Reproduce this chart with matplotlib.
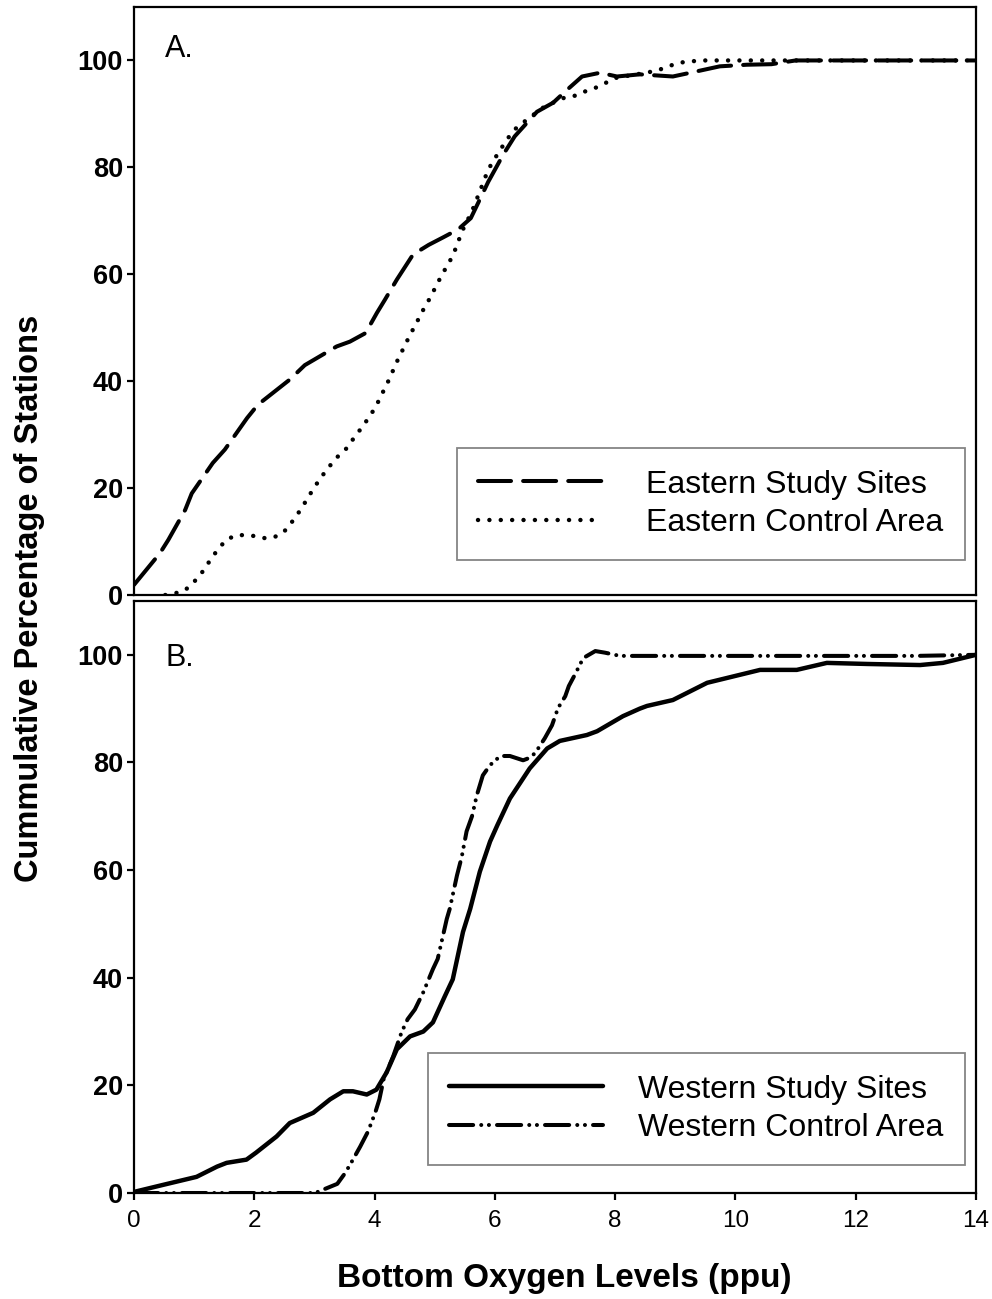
import matplotlib
matplotlib.use("Agg")
import matplotlib.pyplot as plt

plt.rcParams['font.family'] = ['Liberation Sans', 'DejaVu Sans']

# ---------------- data ----------------
east_study_x = [0.0, 0.43, 0.57, 0.85, 0.96, 1.31, 1.51, 1.88, 2.06, 2.59, 2.84, 3.37, 3.59,
                3.85, 4.04, 4.17, 4.37, 4.64, 4.90, 5.14, 5.39, 5.60, 5.75, 5.89, 6.14, 6.33,
                6.70, 6.97, 7.20, 7.45, 7.75, 8.03, 8.41, 8.96, 9.25, 9.74, 10.19, 10.6,
                11.0, 12.0, 13.0, 14.0]
east_study_y = [1.9, 7.8, 10.3, 15.9, 19.0, 24.7, 27.2, 33.1, 35.6, 40.3, 43.0, 46.5, 47.4,
                49.0, 52.8, 55.2, 59.0, 63.7, 65.5, 66.9, 68.4, 70.5, 74.0, 77.3, 82.4, 85.8,
                90.4, 92.1, 94.5, 97.0, 97.7, 97.0, 97.4, 97.0, 97.7, 98.9, 99.2, 99.3,
                100.0, 100.0, 100.0, 100.0]

east_ctrl_x = [0.52, 0.68, 0.85, 1.01, 1.15, 1.26, 1.38, 1.53, 1.70, 1.86, 2.03, 2.19, 2.38,
               2.54, 2.66, 2.78, 2.88, 2.98, 3.09, 3.23, 3.37, 3.54, 3.67, 3.80, 3.91, 4.02,
               4.10, 4.19, 4.27, 4.34, 4.42, 4.51, 4.59, 4.69, 4.77, 4.87, 4.96, 5.05, 5.14,
               5.24, 5.32, 5.39, 5.47, 5.55, 5.62, 5.75, 5.89, 6.04, 6.20, 6.33, 6.53, 6.83,
               7.17, 7.33, 7.50, 7.70, 7.86, 8.03, 8.36, 8.70, 8.88, 9.08, 9.25, 9.41, 9.91,
               11.0, 12.0, 13.0, 14.0]
east_ctrl_y = [0.0, 0.3, 0.9, 2.6, 4.5, 6.4, 8.3, 10.3, 11.2, 11.2, 11.0, 10.6, 11.0,
               12.3, 14.2, 16.1, 18.0, 19.8, 21.7, 23.8, 25.7, 27.5, 29.6, 31.5, 33.3, 35.2,
               37.1, 39.1, 41.0, 42.9, 44.8, 46.8, 48.7, 50.7, 52.6, 54.5, 56.4, 58.4, 60.3,
               62.2, 64.0, 66.1, 68.4, 70.2, 71.8, 75.5, 79.6, 82.4, 85.2, 87.1, 88.9, 91.4,
               93.1, 93.4, 94.2, 95.0, 95.9, 96.8, 97.4, 98.1, 98.9, 99.6, 99.8, 100.0, 100.0,
               100.0, 100.0, 100.0, 100.0]

west_study_x = [0.0, 0.48, 1.04, 1.38, 1.54, 1.87, 2.03, 2.37, 2.59, 2.98, 3.26, 3.48, 3.64,
                3.87, 4.03, 4.20, 4.37, 4.59, 4.81, 4.97, 5.17, 5.30, 5.47, 5.59, 5.75, 5.92,
                6.04, 6.25, 6.58, 6.87, 7.08, 7.53, 7.70, 8.13, 8.41, 8.53, 8.96, 9.53,
                10.41, 11.02, 11.52, 12.19, 13.07, 13.45, 14.0]
west_study_y = [0.2, 1.5, 3.0, 4.9, 5.6, 6.2, 7.5, 10.5, 13.0, 14.9, 17.4, 18.9, 18.9,
                18.3, 19.2, 22.4, 26.7, 29.1, 30.0, 31.7, 36.6, 39.7, 48.5, 52.8, 59.7, 65.3,
                68.3, 73.3, 78.9, 82.6, 84.0, 85.1, 85.8, 88.6, 90.0, 90.5, 91.6, 94.8,
                97.2, 97.2, 98.5, 98.3, 98.1, 98.5, 100.0]

west_ctrl_x = [0.0, 1.0, 2.0, 2.5, 3.01, 3.38, 3.51, 3.62, 3.76, 3.89, 4.01, 4.08, 4.15,
               4.31, 4.45, 4.55, 4.67, 4.81, 4.97, 5.05, 5.20, 5.25, 5.37, 5.45, 5.53, 5.62,
               5.70, 5.80, 5.92, 6.09, 6.25, 6.47, 6.61, 6.72, 6.83, 6.95, 7.05, 7.17, 7.23,
               7.33, 7.47, 7.67, 7.83, 8.08, 9.03, 10.0, 11.0, 12.0, 13.0, 14.0]
west_ctrl_y = [0.0, 0.0, 0.0, 0.0, 0.0, 1.7, 3.7, 5.8, 8.6, 11.4, 14.9, 17.4, 21.1,
               25.4, 29.9, 32.3, 34.1, 37.3, 41.6, 43.5, 50.9, 52.8, 59.0, 62.5, 67.2, 70.0,
               73.9, 77.6, 79.5, 81.2, 81.2, 80.4, 81.0, 82.6, 84.5, 86.9, 90.1, 92.3, 94.2,
               96.3, 99.4, 100.7, 100.4, 99.8, 99.8, 99.8, 99.8, 99.8, 99.8, 100.0]

panel_labels = ["A.", "B."]
legend_a = ["Eastern Study Sites", "Eastern Control Area"]
legend_b = ["Western Study Sites", "Western Control Area"]
x_ticks = [0, 2, 4, 6, 8, 10, 12, 14]
y_ticks = [0, 20, 40, 60, 80, 100]

# ---------------- figure ----------------
W, H = 992, 1299
fig = plt.figure(figsize=(W / 100, H / 100), dpi=100)

def box(x0, y0, x1, y1):
    return [x0 / W, 1 - y1 / H, (x1 - x0) / W, (y1 - y0) / H]

axA = fig.add_axes(box(134, 7, 976, 595))
axB = fig.add_axes(box(134, 601, 976, 1193))

LW_SPINE = 1.6
for ax in (axA, axB):
    ax.set_xlim(0, 14)
    ax.set_ylim(0, 110)
    ax.set_yticks(y_ticks)
    ax.set_yticklabels([str(v) for v in y_ticks], fontweight='bold', fontsize=19.5)
    for s in ax.spines.values():
        s.set_linewidth(LW_SPINE)
        s.set_color('black')
    ax.tick_params(axis='y', direction='out', length=5, width=LW_SPINE, pad=3,
                   colors='black')
    ax.tick_params(axis='x', direction='out', length=5, width=LW_SPINE, pad=7.5,
                   colors='black')
    ax.patch.set_facecolor('white')

axA.set_xticks([])
axB.set_xticks(x_ticks)
axB.set_xticklabels([str(v) for v in x_ticks], fontsize=17.5)

# Panel A lines
axA.plot(east_study_x, east_study_y, color='black', lw=2.9,
         dashes=(8.2, 3.0), dash_capstyle='round', label=legend_a[0])
axA.plot(east_ctrl_x, east_ctrl_y, color='black', lw=3.2,
         dashes=(0.01, 2.55), dash_capstyle='round', label=legend_a[1])

# Panel B lines
axB.plot(west_study_x, west_study_y, color='black', lw=3.2,
         solid_capstyle='round', solid_joinstyle='round', label=legend_b[0])
axB.plot(west_ctrl_x, west_ctrl_y, color='black', lw=2.9,
         dashes=(6.0, 2.0, 0.01, 1.9, 0.01, 2.0), dash_capstyle='round', label=legend_b[1])

axA.text(0.52, 100.6, panel_labels[0], fontsize=22)
axB.text(0.52, 98.0, panel_labels[1], fontsize=22)

legkw = dict(frameon=True, fancybox=False, fontsize=23, borderpad=0.68,
             labelspacing=0.27, borderaxespad=0, bbox_transform=fig.transFigure,
             loc='lower right')
legA = axA.legend(bbox_to_anchor=(965 / W, 1 - 560 / H), handlelength=3.9,
                  handletextpad=1.35, **legkw)
legB = axB.legend(bbox_to_anchor=(965 / W, 1 - 1165 / H), handlelength=4.8,
                  handletextpad=1.1, **legkw)
for lg in (legA, legB):
    fr = lg.get_frame()
    fr.set_edgecolor('0.4')
    fr.set_linewidth(1.3)

fig.text(564 / W, 1 - 1278 / H, "Bottom Oxygen Levels (ppu)", ha='center', va='center',
         fontsize=24, fontweight='bold')
fig.text(30 / W, 1 - 598 / H, "Cummulative Percentage of Stations", ha='center',
         va='center', rotation=90, fontsize=23.5, fontweight='bold')

fig.savefig("out.png", dpi=100, facecolor='white')
